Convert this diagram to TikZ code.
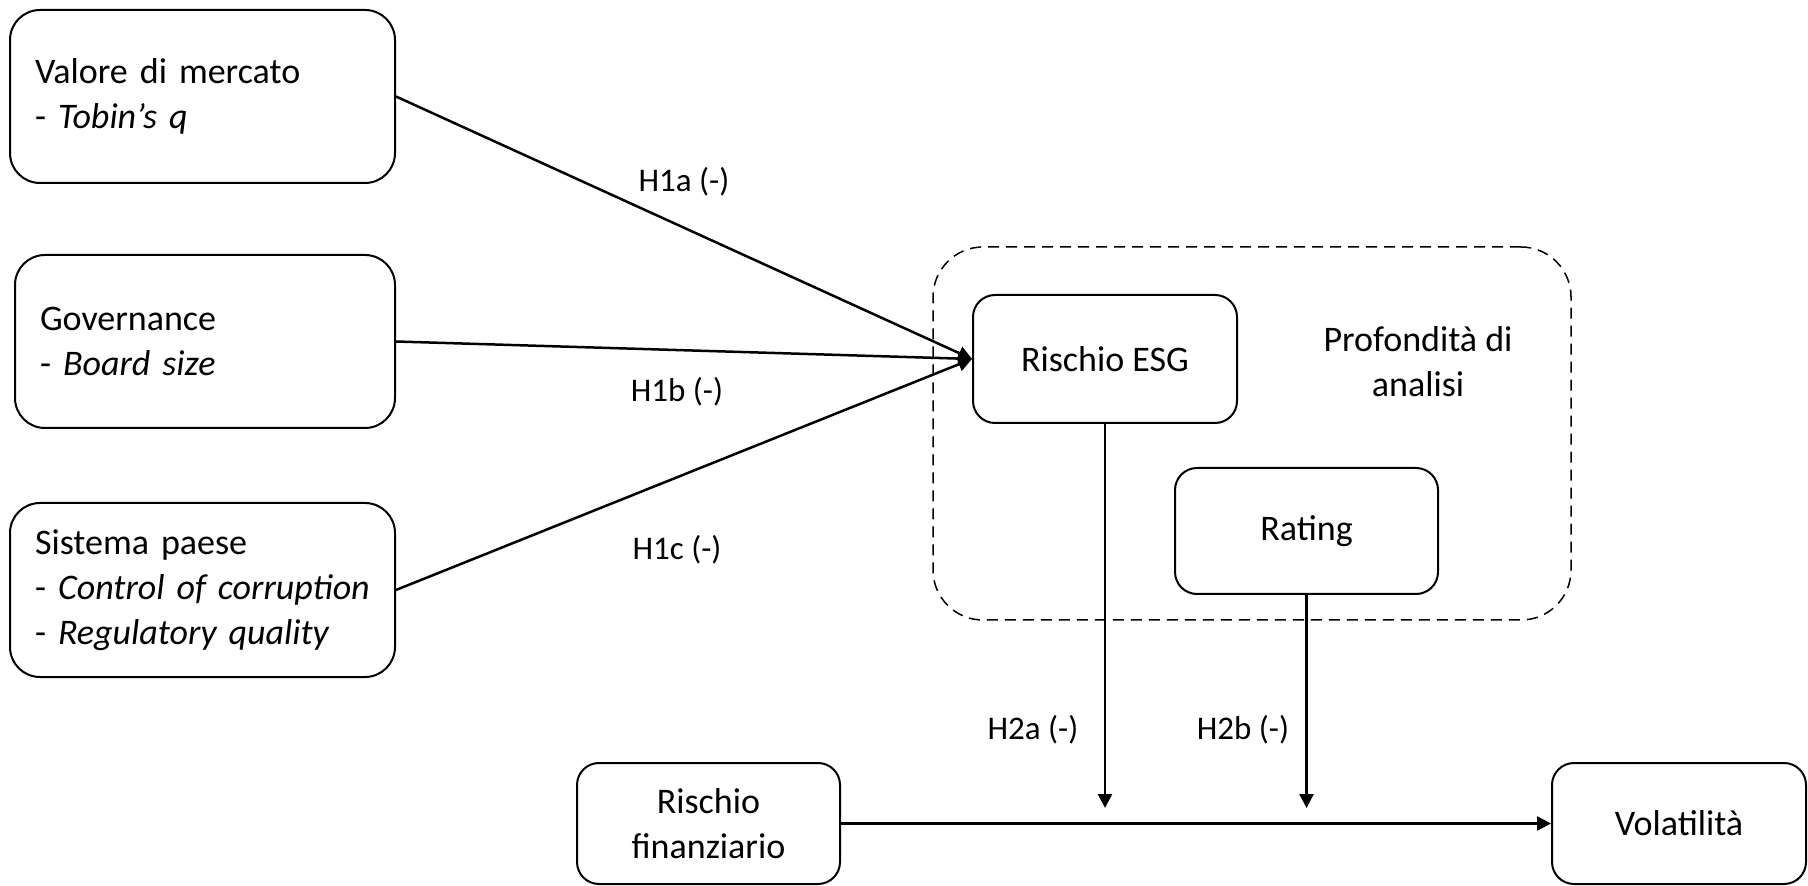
\documentclass[tikz,border=0pt]{standalone}
\usepackage{fontspec}
\setmainfont{Carlito}
\usetikzlibrary{arrows.meta}
\begin{document}
\begin{tikzpicture}[x=0.5pt,y=-0.5pt,
  box/.style={draw, line width=1pt, rounded corners=15pt, font=\fontsize{18}{22.5}\selectfont},
  leftbox/.style={box, align=left, inner xsep=12.5pt, text width=167.5pt, minimum height=86.5pt},
  midbox/.style={box, rounded corners=11pt, align=center, inner sep=0pt},
  grp/.style={draw, line width=0.75pt, dash pattern=on 5.5pt off 3.5pt, rounded corners=25pt, inner sep=0pt},
  conn/.style={line width=1.25pt, -{Triangle[length=7pt,width=7pt]}},
  lbl/.style={font=\fontsize{16.5}{20}\selectfont, inner sep=0pt},
  txt/.style={font=\fontsize{18}{22.5}\selectfont, align=center, inner sep=0pt}]
\useasboundingbox (0,0) rectangle (1808,886);
% group
\node[grp, minimum width=319pt, minimum height=186.5pt] (grp) at (1252,433.5) {};
% left boxes
\node[leftbox] (valore) at (202.5,96.5) {Valore di mercato\\- \textit{Tobin’s q}};
\node[leftbox, text width=165pt] (gov) at (205,341.5) {Governance\\- \textit{Board size}};
\node[leftbox, minimum height=87pt] (sist) at (202.5,590) {Sistema paese\\- \textit{Control of corruption}\\- \textit{Regulatory quality}};
% middle boxes
\node[midbox, minimum width=132pt, minimum height=64pt] (esg) at (1105,359) {Rischio ESG};
\node[midbox, minimum width=131.5pt, minimum height=63pt] (rating) at (1306.5,531) {Rating};
\node[txt] (prof) at (1418,362) {Profondità di\\analisi};
% bottom boxes
\node[midbox, minimum width=131.5pt, minimum height=60.5pt] (rfin) at (708.5,823.5) {Rischio\\finanziario};
\node[midbox, minimum width=127pt, minimum height=60.5pt] (vol) at (1679,823.5) {Volatilità};
% coordinates
\coordinate (tipA) at (1105,808);
\coordinate (tipB) at (1306.5,808);
% connectors
\draw[conn] (valore.east) -- (esg.west);
\draw[conn] (gov.east) -- (esg.west);
\draw[conn] (sist.east) -- (esg.west);
\draw[conn] (esg.south) -- (tipA);
\draw[conn] (rating.south) -- (tipB);
\draw[conn] (rfin.east) -- (vol.west);
% labels
\node[lbl] (h1a) at (684,182) {H1a (-)};
\node[lbl] (h1b) at (677,392) {H1b (-)};
\node[lbl] (h1c) at (677,550) {H1c (-)};
\node[lbl] (h2a) at (1033,730) {H2a (-)};
\node[lbl] (h2b) at (1243,730) {H2b (-)};
\end{tikzpicture}
\end{document}
